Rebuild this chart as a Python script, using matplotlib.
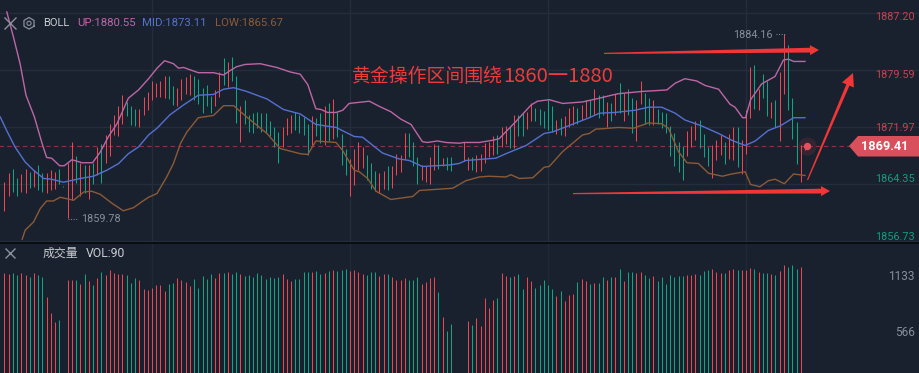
import matplotlib
matplotlib.use("Agg")
import matplotlib.pyplot as plt
import numpy as np

plt.rcParams['font.family'] = ['Roboto', 'Noto Sans CJK SC', 'DejaVu Sans']

highs = [1864.6, 1865.8, 1866.4, 1865.1, 1865.7, 1866.3, 1865.9, 1866.2, 1866.9, 1865.8,
         1865.8, 1866.2, 1865.9, 1866.3, 1864.1, 1867.1, 1869.9, 1868.1, 1867.1, 1866.9,
         1866.9, 1867.2, 1869.3, 1869.7, 1870.9, 1872.3, 1873.5, 1874.7, 1876.2, 1875.3,
         1874.7, 1874.3, 1874.4, 1875.9, 1876.6, 1878.1, 1877.8, 1878.1, 1878.8, 1878.8,
         1877.4, 1877.1, 1878.4, 1878.6, 1879.0, 1878.8, 1878.3, 1877.2, 1877.6, 1876.1,
         1876.9, 1879.3, 1881.2, 1880.6, 1881.3, 1878.8, 1874.7, 1875.5, 1873.5, 1873.8,
         1874.0, 1873.8, 1873.8, 1872.7, 1872.0, 1871.3, 1871.9, 1873.2, 1873.5, 1874.0,
         1873.5, 1873.3, 1872.4, 1873.4, 1873.2, 1873.8, 1874.7, 1875.2, 1875.7, 1874.0,
         1871.0, 1869.0, 1867.7, 1869.0, 1869.9, 1869.3, 1868.2, 1867.1, 1866.1, 1865.8,
         1866.1, 1866.7, 1866.8, 1868.4, 1868.2, 1871.1, 1871.2, 1870.0, 1867.9, 1866.9,
         1866.7, 1868.0, 1869.7, 1869.5, 1867.8, 1868.0, 1867.9, 1866.8, 1866.8, 1869.9,
         1868.0, 1867.9, 1868.2, 1868.4, 1869.8, 1870.0, 1870.7, 1870.9, 1871.9, 1872.1,
         1872.1, 1873.5, 1873.6, 1873.8, 1874.0, 1875.2, 1874.5, 1874.3, 1874.1, 1875.6,
         1874.7, 1872.9, 1873.2, 1873.4, 1874.5, 1874.7, 1874.5, 1874.9, 1875.5, 1875.5,
         1877.0, 1876.2, 1876.2, 1875.3, 1875.1, 1876.4, 1877.8, 1876.5, 1877.0, 1875.8,
         1875.5, 1878.1, 1876.5, 1875.8, 1875.5, 1874.4, 1874.0, 1873.8, 1872.1, 1871.1,
         1870.0, 1869.4, 1871.4, 1872.1, 1872.8, 1872.9, 1871.0, 1869.3, 1869.5, 1870.2,
         1870.9, 1870.0, 1871.0, 1872.0, 1871.9, 1870.2, 1874.2, 1880.0, 1880.2, 1877.0,
         1879.0, 1878.1, 1875.3, 1875.5, 1879.3, 1884.4, 1882.9, 1875.8, 1872.6, 1869.5,
         1869.5]
lows = [1860.8, 1862.8, 1863.3, 1862.8, 1863.3, 1863.2, 1863.8, 1864.0, 1863.5, 1863.3,
        1863.2, 1863.5, 1863.7, 1864.4, 1864.0, 1859.8, 1862.2, 1864.5, 1862.8, 1863.2,
        1862.3, 1864.4, 1865.5, 1864.5, 1867.2, 1868.1, 1870.9, 1870.7, 1872.4, 1873.4,
        1872.2, 1872.1, 1872.0, 1873.5, 1874.2, 1875.5, 1876.0, 1875.9, 1875.8, 1875.7,
        1874.9, 1874.7, 1875.6, 1876.3, 1876.2, 1875.5, 1875.0, 1873.8, 1874.7, 1873.8,
        1874.7, 1876.0, 1877.6, 1877.3, 1878.1, 1872.5, 1870.0, 1872.4, 1871.3, 1871.2,
        1871.8, 1871.3, 1871.1, 1870.7, 1869.3, 1867.2, 1869.3, 1870.9, 1871.1, 1871.5,
        1871.2, 1870.9, 1868.2, 1869.6, 1870.7, 1869.8, 1869.5, 1870.1, 1870.3, 1870.6,
        1866.9, 1865.5, 1862.8, 1864.2, 1866.2, 1866.5, 1864.9, 1863.7, 1863.4, 1863.2,
        1863.7, 1863.5, 1863.8, 1865.5, 1865.9, 1867.7, 1868.0, 1866.8, 1864.3, 1864.9,
        1864.6, 1864.3, 1866.2, 1866.3, 1866.7, 1866.2, 1866.1, 1866.7, 1866.7, 1867.4,
        1866.2, 1866.2, 1866.0, 1866.1, 1867.1, 1868.0, 1868.2, 1868.4, 1869.3, 1869.7,
        1869.2, 1869.2, 1870.7, 1870.7, 1871.7, 1872.8, 1872.7, 1872.2, 1871.8, 1871.5,
        1871.3, 1871.0, 1870.9, 1870.7, 1872.0, 1872.2, 1872.3, 1872.9, 1873.3, 1873.3,
        1873.5, 1873.2, 1873.5, 1872.0, 1872.7, 1873.5, 1873.8, 1872.7, 1873.5, 1871.2,
        1870.1, 1875.0, 1872.4, 1872.2, 1872.2, 1872.4, 1871.8, 1871.1, 1868.1, 1866.8,
        1865.9, 1864.9, 1868.1, 1869.3, 1870.2, 1869.2, 1868.0, 1866.7, 1865.1, 1867.5,
        1868.2, 1867.0, 1867.7, 1867.6, 1866.6, 1865.7, 1868.4, 1873.1, 1874.4, 1874.2,
        1875.8, 1873.4, 1873.2, 1872.0, 1870.1, 1876.4, 1874.2, 1870.3, 1867.0, 1864.6,
        1868.9]
directions = ("rrggrrgrggrrrgg" "rrgrgrgrgrrrrrg" "ggrrrrrrrggrrrr" "gggggrrgrggrggg"
              "ggggggrrrggggrg" "grgrgggrrrrgggr" "rgrrrrgggrrrrgr" "ggrrrrgrrrrrgrr"
              "grggrrgggggrgrr" "rgrrgrggrgrgrgg" "rrggrgggggggrrr" "gggrrrgrrgrrrgr"
              "ggrgrrgggrr")
volumes = [1171, 1161, 1171, 1151, 1171, 1151, 1131, 1171, 1151, 1131,
           928, 766, 675, 696, 120, 1101, 1101, 1101, 1060, 1161,
           1090, 1050, 1121, 1182, 1151, 1202, 1171, 1161, 1161, 1151,
           1070, 1121, 1101, 1009, 999, 1020, 1050, 1050, 989, 1060,
           1070, 1121, 1101, 1080, 1040, 1111, 1020, 1141, 1111, 1161,
           1121, 1171, 1171, 1182, 1161, 1182, 1161, 1141, 1151, 1131,
           1171, 1151, 1111, 1131, 1121, 1131, 1161, 1111, 1090, 1111,
           1111, 1182, 1182, 1182, 1192, 1161, 1171, 1192, 1202, 1192,
           1202, 1212, 1192, 1202, 1182, 1161, 1151, 1182, 1182, 1141,
           1161, 1161, 1131, 1101, 1101, 1121, 1101, 1101, 1131, 1060,
           1080, 1121, 1131, 979, 726, 584, 655, 120, 120, 120,
           685, 645, 716, 635, 918, 817, 898, 918, 1171, 1141,
           1131, 1141, 1161, 1009, 1131, 1090, 1020, 1050, 1101, 1050,
           1009, 939, 989, 888, 949, 959, 1080, 1111, 1090, 1060,
           1070, 1070, 1131, 1101, 1131, 1131, 1212, 1090, 1182, 1182,
           1171, 1182, 1151, 1121, 1141, 1090, 1131, 1060, 1151, 1131,
           1141, 1141, 1151, 1151, 1161, 1151, 1192, 1202, 1212, 1182,
           1171, 1171, 1202, 1212, 1202, 1202, 1202, 1222, 1212, 1182,
           1171, 1171, 1161, 1151, 1192, 1252, 1232, 1252, 1212, 1232]

up_x = [0.55, 2.1, 3.7, 5.1, 7.1, 8.9, 10, 11.2, 13.1, 14.2, 16, 18.4, 20.9, 22.7, 24.7, 26.7, 29.4, 31.8,
        34.2, 36.2, 38, 40.1, 41.3, 42.5, 46, 49.6, 52, 53.6, 55.1, 57.1, 60.7, 64.6, 67.8, 70.2,
        72, 73.9, 75.1, 76.7, 78.7, 80.3, 81.8, 86.6, 89, 91.7, 94.1, 96.5, 99.2, 100.4, 102.8, 104.8,
        107.9, 109.1, 112.7, 115.9, 117.4, 121.4, 125, 126.5, 129.3, 132.5, 137.2, 141.2,
        144.1, 145.7, 151.3, 157.2, 159.2, 161.5, 164.3, 166.3, 169.5, 172.2, 173.4, 175.2, 175.9,
        177.1, 179.7, 182.9, 184.9, 186.1, 187.3, 190]
up_y = [1887.3, 1884.0, 1880.4, 1876.2, 1873.3, 1869.8, 1867.9, 1867.8, 1866.8, 1866.8, 1867.6, 1867.2,
        1867.2, 1868.6, 1870.7, 1872.4, 1875.8, 1876.9, 1878.4, 1879.8, 1880.8, 1880.4, 1879.8, 1879.9,
        1879.2, 1879.2, 1878.9, 1879.5, 1880.0, 1880.3, 1880.4, 1879.9, 1879.3, 1879.0,
        1877.6, 1874.4, 1874.3, 1873.9, 1873.9, 1874.2, 1875.1, 1875.4, 1874.7, 1874.0, 1873.0, 1872.3,
        1870.0, 1869.9, 1870.1, 1869.9, 1869.8, 1869.9, 1869.9, 1870.2, 1870.4, 1872.7, 1874.9, 1875.4,
        1875.6, 1875.1, 1875.3, 1875.8, 1876.2, 1876.4, 1876.7, 1876.9, 1877.8, 1878.4, 1878.1, 1877.5,
        1877.0, 1875.0, 1874.6, 1873.2, 1873.2, 1875.6, 1877.7, 1878.7, 1880.9, 1881.0, 1880.7, 1880.7]
mid_x = [-1, 0.5, 2.5, 4.9, 6.9, 9.3, 11.2, 14, 18, 21.1, 24.3, 27.1, 29.4, 31.8, 34.2, 36.2, 39.3, 42.5,
         46, 49.6, 52, 54.4, 57.5, 62.3, 66.2, 70.2, 73.9, 78.7, 83, 85, 89.7, 93.7, 96.1, 99.2, 105.6,
         107.9, 109.5, 116.6, 119, 123.8, 128.1, 130.1, 138.8, 141.2, 144.9, 149.7, 152.8, 156, 159.2,
         161.5, 165.5, 169.5, 172.6, 175.8, 178.2, 181.3, 184.1, 187.3, 190]
mid_y = [1873.3, 1871.5, 1869.3, 1867.3, 1866.2, 1865.1, 1865.0, 1864.6, 1865.1, 1865.4, 1866.2, 1867.1,
         1868.4, 1869.3, 1870.9, 1871.8, 1873.6, 1874.9, 1876.2, 1876.3, 1877.0, 1877.2, 1876.7, 1875.7,
         1874.3, 1873.7, 1872.3, 1871.9, 1870.7, 1870.6, 1868.5, 1867.7, 1867.5, 1866.7, 1866.9, 1867.1,
         1867.5, 1867.8, 1868.4, 1869.5, 1871.1, 1871.3, 1873.2, 1873.8, 1873.9, 1874.2, 1874.6, 1874.6,
         1873.8, 1872.9, 1872.1, 1871.1, 1870.2, 1869.5, 1870.1, 1871.5, 1872.1, 1873.2, 1873.2]
low_x = [4.2, 4.9, 6.9, 8.5, 10, 11.6, 13.2, 16.4, 18.8, 20.7, 22.7, 25.5, 28.2, 30.6, 32.6, 34.2, 36.2, 38.5,
         40.1, 41.8, 43.3, 46, 49.6, 52, 54.4, 57.9, 62.3, 65.4, 70.2, 72, 73.9, 78.7, 80.3, 83, 84.2,
         86.2, 88.2, 91.7, 96.9, 98.5, 106.4, 109.5, 112.7, 115, 119, 120.2, 122.2, 125.4, 128.1, 129.3,
         132.5, 137.2, 138.8, 140.4, 141.2, 145.7, 149.3, 152.8, 156, 157.6, 160, 162, 164.7, 167.1,
         170.4, 172.6, 175.8, 177.1, 179.3, 181.3, 182.9, 185.1, 187.3, 190]
low_y = [1857.0, 1858.2, 1859.3, 1861.1, 1862.1, 1862.1, 1862.6, 1862.2, 1863.3, 1863.4, 1863.0, 1861.8,
         1860.8, 1861.2, 1862.0, 1862.6, 1863.1, 1865.3, 1867.1, 1869.8, 1871.3, 1873.2, 1873.5, 1874.8,
         1874.8, 1873.1, 1871.1, 1869.1, 1868.4, 1868.3, 1870.1, 1869.9, 1868.8, 1866.2, 1866.0, 1865.1,
         1863.4, 1862.3, 1862.7, 1863.5, 1863.8, 1864.8, 1865.3, 1865.4, 1865.3, 1865.6, 1865.1, 1865.2,
         1866.6, 1866.7, 1868.7, 1870.9, 1871.1, 1871.7, 1871.7, 1871.9, 1871.8, 1872.5, 1872.4, 1871.8,
         1868.65, 1867.2, 1867.1, 1865.8, 1865.4, 1865.7, 1866.0, 1864.3, 1864.0, 1864.8, 1865.0, 1864.4,
         1865.7, 1865.5]

price_ticks = [1887.20, 1879.59, 1871.97, 1864.35, 1856.73]
volume_ticks = [1133, 566]
last_price = 1869.41
time_grid = [35, 82, 129, 176]

BG = '#1a212e'
GRID = '#242d3b'
RED = '#f0444f'
GREEN = '#0aa884'
W, H = 919, 373
colors = [RED if d == 'r' else GREEN for d in directions]
x = np.arange(len(highs))

fig = plt.figure(figsize=(W / 100, H / 100), dpi=100, facecolor=BG)

# price panel, scale set so the ticks sit on the grid rows
ax = fig.add_axes([0, 1 - 243 / H, 1, 243 / H], facecolor=BG)
ax.set_xlim(-1.068, 217.07)
ax.set_ylim(1856.50, 1888.89)
ax.hlines(price_ticks, -2, 218, color=GRID, lw=1, zorder=1)
ax.vlines(time_grid, 1850, 1890, color=GRID, lw=1, zorder=1)
ax.hlines(last_price, -2, 201, color='#8f3343', lw=0.8, linestyles=(0, (4, 3)), zorder=2)
ax.vlines(x, lows, highs, color=colors, lw=0.72, zorder=3, snap=True)
ax.plot(up_x, up_y, color='#bd66a6', lw=1.0, zorder=4)
ax.plot(mid_x, mid_y, color='#5470d0', lw=1.0, zorder=4)
ax.plot(low_x, low_y, color='#8c5a36', lw=1.0, zorder=4)
ax.scatter([190.4], [last_price], s=170, color=RED, alpha=0.13, lw=0, zorder=5)
ax.scatter([190.4], [last_price], s=28, color='#e0525e', lw=0, zorder=5)
ax.axis('off')

# volume panel
ax2 = fig.add_axes([0, 0, 1, 130 / H], facecolor=BG)
ax2.set_xlim(-1.068, 217.07)
ax2.set_ylim(159, 1475)
ax2.vlines(time_grid, 159, 1475, color='#202936', lw=1, zorder=1)
ax2.vlines(x[:len(volumes)], 0, volumes, color=colors[:len(volumes)], lw=0.72, zorder=3, snap=True)
ax2.axis('off')

# overlay in screen pixels for the texts and the drawn arrows
ov = fig.add_axes([0, 0, 1, 1], facecolor='none')
ov.set_xlim(0, W)
ov.set_ylim(H, 0)
ov.axis('off')
ov.plot([0, W], [243.3, 243.3], color='#05070a', lw=1.1)


def arrow(x0, y0, x1, y1, head_len, head_w, shaft_w):
    d = np.array([x1 - x0, y1 - y0], dtype=float)
    d /= np.hypot(*d)
    n = np.array([-d[1], d[0]])
    tip = np.array([x1, y1], dtype=float)
    tail = np.array([x0, y0], dtype=float)
    base = tip - d * head_len
    pts = [tail + n * 0.6, base + n * shaft_w, base + n * head_w, tip, base - n * head_w, base - n * shaft_w, tail - n * 0.6]
    ov.fill([p[0] for p in pts], [p[1] for p in pts], color='#f03636', lw=0, zorder=6)


arrow(604, 53.4, 819, 50, 9, 5, 2.4)
arrow(573, 193.6, 830, 191, 9, 5, 2.4)
arrow(807.5, 180, 853, 73, 13, 6.5, 1.7)

ov.text(352, 77, '黄金操作区间围绕', color='#f03a3a', fontsize=13.6, va='center', ha='left',
        family=['Noto Sans CJK SC', 'DejaVu Sans'], zorder=7)
ov.text(503, 77, '1860一1880', color='#f03a3a', fontsize=14.6, va='center', ha='left',
        family=['Noto Sans CJK SC', 'DejaVu Sans'], zorder=7)

label_rows = [17, 75, 128, 179, 237]
label_colors = ['#c4434f', '#c4434f', '#c4434f', '#0f9d80', '#0f9d80']
for p, row, c in zip(price_ticks, label_rows, label_colors):
    ov.text(915, row, f'{p:.2f}', color=c, fontsize=7.8, ha='right', va='center')
for v, row in zip(volume_ticks, [276.7, 332.7]):
    ov.text(915, row, str(v), color='#868d9b', fontsize=8.6, ha='right', va='center')

ov.fill([849, 858, 919, 919, 858], [146, 136, 136, 156.5, 156.5], color='#d9505c', lw=0, zorder=6)
ov.text(884.5, 146, f'{last_price:.2f}', color='white', fontsize=9.2, fontweight='bold', ha='center',
        va='center', zorder=7)

ov.text(81, 219.5, '1859.78', color='#868d9b', fontsize=7.8, ha='left', va='center')
ov.plot([68, 78], [218.5, 218.5], color='#868d9b', lw=0.7, ls=':')
ov.text(773, 34.5, '1884.16', color='#868d9b', fontsize=7.8, ha='right', va='center')
ov.plot([776, 785], [33.5, 33.5], color='#868d9b', lw=0.7, ls=':')

# legend rows
ov.plot([5, 16, np.nan, 16, 5], [18, 29, np.nan, 18, 29], color='#8b919c', lw=1.0)
t = np.deg2rad(np.arange(30, 391, 60))
ov.plot(29 + 5.8 * np.cos(t), 23.3 + 5.8 * np.sin(t), color='#8b919c', lw=0.9)
ov.scatter([29], [23.3], s=9, facecolor='none', edgecolor='#8b919c', lw=0.8)
ov.text(43, 23.5, 'BOLL', color='#c8ccd2', fontsize=8, va='center')
ov.text(77, 23.5, 'UP:1880.55', color='#bd66a6', fontsize=8.2, va='center')
ov.text(142, 23.5, 'MID:1873.11', color='#5470d0', fontsize=8.2, va='center')
ov.text(215, 23.5, 'LOW:1865.67', color='#8c5a36', fontsize=8.2, va='center')
ov.plot([6, 15, np.nan, 15, 6], [249, 258, np.nan, 249, 258], color='#8b919c', lw=1.0)
ov.text(43, 253.5, '成交量', color='#c8ccd2', fontsize=8.6, va='center',
        family=['Noto Sans CJK SC', 'DejaVu Sans'])
ov.text(85.5, 253.5, 'VOL:90', color='#c8ccd2', fontsize=8.8, va='center')

fig.savefig('out.png', dpi=100, facecolor=BG)
